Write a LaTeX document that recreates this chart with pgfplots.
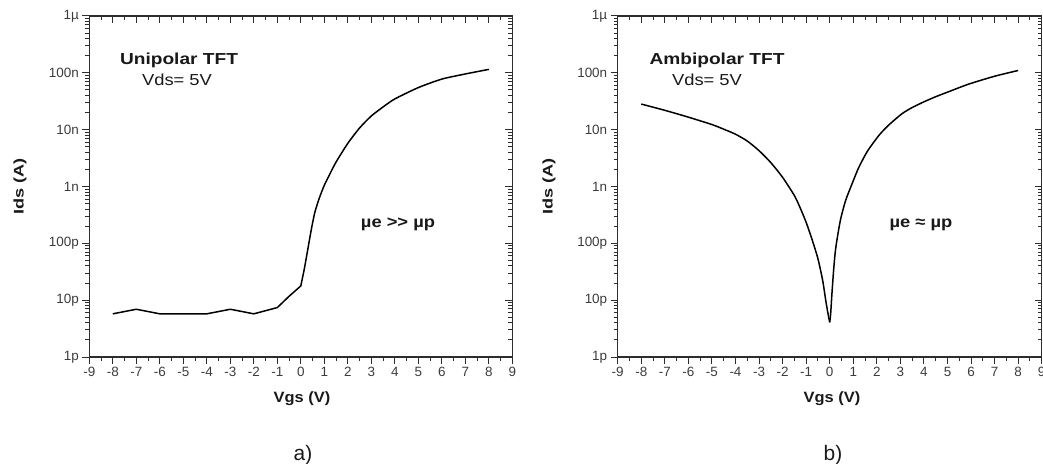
\documentclass[border=0pt]{standalone}
\usepackage{fontspec}
\setmainfont{Liberation Sans}
\usepackage{pgfplots}
\pgfplotsset{compat=1.18}
\definecolor{axgray}{RGB}{45,45,45}
\definecolor{lblgray}{RGB}{60,60,60}
\pgfplotsset{/pgfplots/tftbase/.style={
  anchor=south west, scale only axis, height=341bp,
  xmin=-9, xmax=9, ymin=1e-12, ymax=1e-6,
  xtick={-9,-8,...,9}, minor x tick num=1,
  ytick={1e-12,1e-11,1e-10,1e-9,1e-8,1e-7,1e-6},
  major tick length=7bp, minor tick length=4bp,
  axis line style={line width=1.5bp, axgray},
  every tick/.style={axgray, line width=1bp},
  clip=false,
  /pgf/number format/assume math mode=true,
},
/pgfplots/tftax/.style={tftbase,
  yticklabels={1p,10p,100p,1n,10n,100n,1µ},
  tick align=outside, xtick pos=left, ytick pos=left,
  tick label style={font=\fontsize{13.5}{15}\selectfont, text=lblgray},
},
/pgfplots/tftmirror/.style={tftbase,
  tick align=inside, xtick pos=right, ytick pos=right,
  xticklabels={}, yticklabels={},
}}
\begin{document}
\begin{tikzpicture}[x=1bp,y=1bp]
\path[use as bounding box] (0,0) rectangle (1043,464);
% ---------- a) Unipolar ----------
\begin{semilogyaxis}[tftmirror, at={(89.3bp,107bp)}, width=423bp]
\end{semilogyaxis}
\begin{semilogyaxis}[tftax, at={(89.3bp,107bp)}, width=423bp]
\addplot[black, line width=1.5bp, line join=round] coordinates {
(-8,5.75e-12) (-7,6.92e-12) (-6,5.75e-12) (-5,5.75e-12) (-4,5.75e-12)
(-3,6.92e-12) (-2,5.75e-12) (-1,7.41e-12) (-0.5,1.17e-11) (0,1.78e-11)
(0.15,3.55e-11) (0.3,7.94e-11)
};
\addplot[black, line width=1.5bp, smooth, tension=0.4] coordinates {
(0.3,7.94e-11) (0.45,1.78e-10) (0.6,3.55e-10) (0.8,6.46e-10)
(1.0,1.05e-9) (1.25,1.70e-9) (1.5,2.69e-9) (2,5.75e-9) (2.5,1.07e-8)
(3,1.74e-8) (3.5,2.51e-8) (4,3.47e-8) (5,5.50e-8) (6,7.76e-8) (7,9.55e-8) (8,1.15e-7)
};
\end{semilogyaxis}
% ---------- b) Ambipolar ----------
\begin{semilogyaxis}[tftmirror, at={(617.7bp,107bp)}, width=424bp]
\end{semilogyaxis}
\begin{semilogyaxis}[tftax, at={(617.7bp,107bp)}, width=424bp]
\addplot[black, line width=1.5bp, smooth, tension=0.4] coordinates {
(-8,2.82e-8) (-7,2.19e-8) (-6,1.66e-8) (-5,1.23e-8) (-4.5,1.02e-8)
(-4,8.32e-9) (-3.5,6.31e-9) (-3,4.27e-9) (-2.5,2.63e-9) (-2,1.45e-9)
(-1.5,6.92e-10) (-1.25,4.17e-10) (-1,2.34e-10) (-0.75,1.17e-10) (-0.5,5.37e-11)
(-0.3,2.24e-11) (-0.17,1.00e-11) (-0.08,6.03e-12) (0,4.07e-12)
};
\addplot[black, line width=1.5bp, smooth, tension=0.4] coordinates {
(0,4.07e-12) (0.04,5.75e-12) (0.1,1.41e-11) (0.18,3.98e-11) (0.26,8.51e-11)
(0.45,2.51e-10) (0.68,5.75e-10) (1.0,1.26e-9) (1.24,2.19e-9) (1.6,4.17e-9)
(2.09,7.94e-9) (2.5,1.20e-8) (3.07,1.91e-8) (3.5,2.45e-8) (4,3.09e-8)
(4.5,3.80e-8) (5,4.57e-8) (5.89,6.31e-8) (7,8.71e-8) (8,1.10e-7)
};
\end{semilogyaxis}
% ---------- labels ----------
\begin{scope}[every node/.style={text=black!90}]
\node[rotate=90, xscale=1.3, font=\bfseries\fontsize{14}{16}\selectfont] at (20,277.5) {Ids (A)};
\node[rotate=90, xscale=1.3, font=\bfseries\fontsize{14}{16}\selectfont] at (549,277.5) {Ids (A)};
\node[anchor=base, xscale=1.1, font=\bfseries\fontsize{15}{17}\selectfont] at (302,61) {Vgs (V)};
\node[anchor=base, xscale=1.1, font=\bfseries\fontsize{15}{17}\selectfont] at (832,61) {Vgs (V)};
\node[anchor=base, xscale=1.2, font=\bfseries\fontsize{16}{18}\selectfont] at (179,399) {Unipolar TFT};
\node[anchor=base, xscale=1.15, font=\fontsize{16}{18}\selectfont] at (177,378) {Vds= 5V};
\node[anchor=base, xscale=1.15, font=\bfseries\fontsize{16}{18}\selectfont] at (398,236) {µe >{}> µp};
\node[anchor=base, xscale=1.2, font=\bfseries\fontsize{16}{18}\selectfont] at (717,399) {Ambipolar TFT};
\node[anchor=base, xscale=1.15, font=\fontsize{16}{18}\selectfont] at (707,378) {Vds= 5V};
\node[anchor=base, xscale=1.15, font=\bfseries\fontsize{16}{18}\selectfont] at (921,236) {µe ≈ µp};
\node[anchor=base, font=\fontsize{21}{24}\selectfont] at (303,3) {a)};
\node[anchor=base, font=\fontsize{21}{24}\selectfont] at (833,3) {b)};
\end{scope}
\end{tikzpicture}
\end{document}
